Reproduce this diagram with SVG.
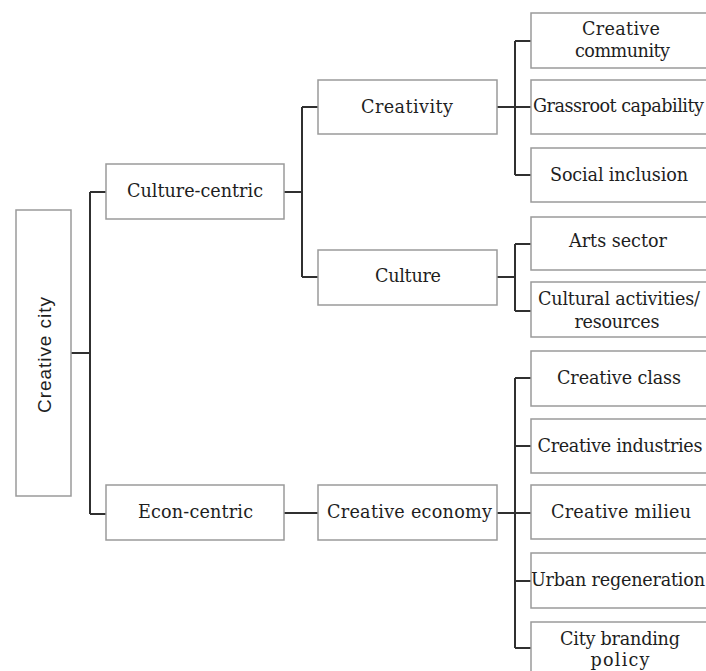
<svg xmlns="http://www.w3.org/2000/svg" width="706" height="671" viewBox="0 0 706 671">
<style>
.box{fill:#fff;stroke:#9a9a9a;stroke-width:1.5}
.t{font-family:"DejaVu Serif","Liberation Serif",serif;font-size:17.6px;fill:#1e1e1e;text-anchor:middle}
.s{font-family:"Liberation Sans",Arial,sans-serif;font-size:19px;fill:#1e1e1e;text-anchor:middle}
.c{fill:none;stroke:#303030;stroke-width:2}
</style>
<rect width="706" height="671" fill="#fff"/>
<g id="connectors">
<path class="c" d="M71 353H90M90 192V514M90 192H106M90 514H106"/>
<path class="c" d="M284 192H302M302 107V277M302 107H318M302 277H318"/>
<path class="c" d="M284 513H318"/>
<path class="c" d="M497 107H515M515 41V175M515 41H531M515 107H531M515 175H531"/>
<path class="c" d="M497 277H515M515 244V311M515 244H531M515 311H531"/>
<path class="c" d="M497 513H515M515 378V648M515 378H531M515 446H531M515 513H531M515 581H531M515 648H531"/>
</g>
<g id="creative-city"><rect class="box" x="16" y="210" width="55" height="286"/><text class="s" transform="translate(51,355) rotate(-90)" textLength="116">Creative city</text></g>
<g id="culture-centric"><rect class="box" x="106" y="164" width="178" height="55"/><text class="t" x="195" y="197" textLength="136">Culture-centric</text></g>
<g id="econ-centric"><rect class="box" x="106" y="485" width="178" height="55"/><text class="t" x="195.5" y="518" textLength="115">Econ-centric</text></g>
<g id="creativity"><rect class="box" x="318" y="80" width="179" height="54"/><text class="t" x="407" y="113" textLength="92">Creativity</text></g>
<g id="culture"><rect class="box" x="318" y="250" width="179" height="55"/><text class="t" x="408" y="282" textLength="66">Culture</text></g>
<g id="creative-economy"><rect class="box" x="318" y="485" width="179" height="55"/><text class="t" x="409.5" y="518" textLength="165">Creative economy</text></g>
<g id="creative-community"><rect class="box" x="531" y="13" width="186" height="55"/><text class="t" x="621" y="35" textLength="78">Creative</text><text class="t" x="622.5" y="57" textLength="95">community</text></g>
<g id="grassroot-capability"><rect class="box" x="531" y="80" width="186" height="54"/><text class="t" x="533" y="112" style="text-anchor:start" textLength="171">Grassroot capability</text></g>
<g id="social-inclusion"><rect class="box" x="531" y="148" width="186" height="54"/><text class="t" x="619" y="181" textLength="138">Social inclusion</text></g>
<g id="arts-sector"><rect class="box" x="531" y="217" width="186" height="53"/><text class="t" x="618" y="247" textLength="98">Arts sector</text></g>
<g id="cultural-activities"><rect class="box" x="531" y="282" width="186" height="55"/><text class="t" x="619" y="305" textLength="162">Cultural activities/</text><text class="t" x="617" y="328" textLength="85">resources</text></g>
<g id="creative-class"><rect class="box" x="531" y="351" width="186" height="55"/><text class="t" x="619" y="384" textLength="124">Creative class</text></g>
<g id="creative-industries"><rect class="box" x="531" y="419" width="186" height="54"/><text class="t" x="620" y="452" textLength="165">Creative industries</text></g>
<g id="creative-milieu"><rect class="box" x="531" y="485" width="186" height="54"/><text class="t" x="621" y="518" textLength="140">Creative milieu</text></g>
<g id="urban-regeneration"><rect class="box" x="531" y="553" width="186" height="55"/><text class="t" x="618" y="586" textLength="174">Urban regeneration</text></g>
<g id="city-branding-policy"><rect class="box" x="531" y="622" width="186" height="55"/><text class="t" x="620" y="645" textLength="120">City branding</text><text class="t" x="620" y="666" textLength="59">policy</text></g>
</svg>
